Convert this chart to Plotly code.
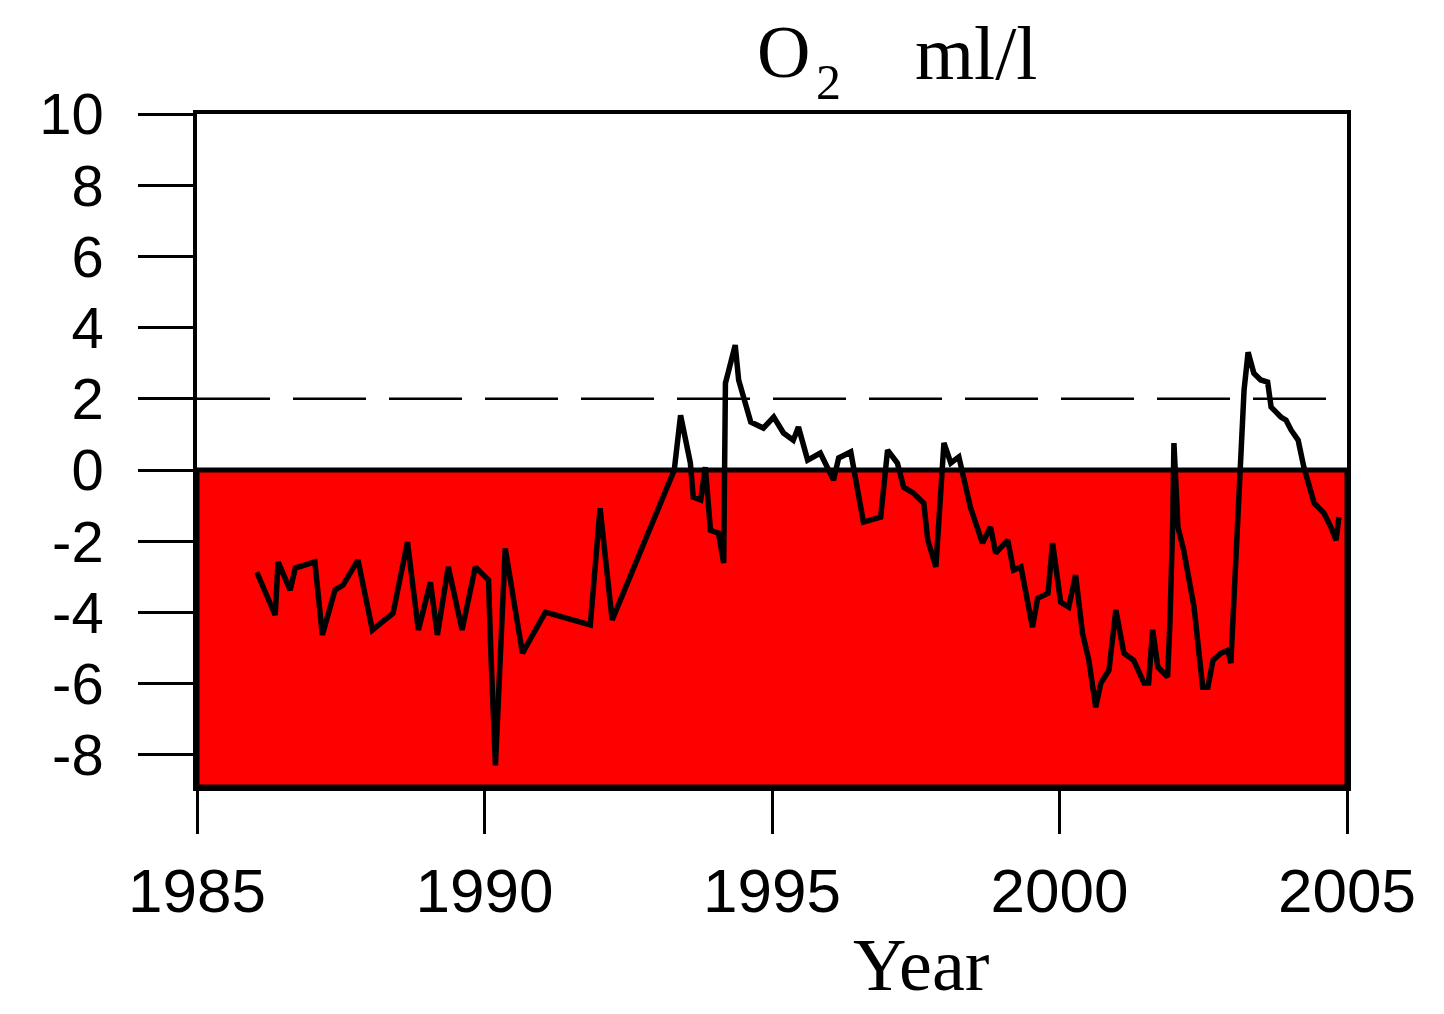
import plotly.graph_objects as go

# ---- data ----
years = [1986.04, 1986.36, 1986.41, 1986.62, 1986.71, 1987.05, 1987.18, 1987.40, 1987.54, 1987.80,
         1988.05, 1988.41, 1988.66, 1988.85, 1989.06, 1989.18, 1989.37, 1989.61, 1989.84, 1990.07,
         1990.11, 1990.19, 1990.36, 1990.66, 1991.06, 1991.84, 1992.01, 1992.22, 1993.30, 1993.41,
         1993.58, 1993.63, 1993.76, 1993.84, 1993.93, 1994.07, 1994.16, 1994.19, 1994.24, 1994.36,
         1994.42, 1994.57, 1994.63, 1994.85, 1995.03, 1995.20, 1995.37, 1995.46, 1995.62, 1995.84,
         1996.07, 1996.16, 1996.37, 1996.59, 1996.89, 1997.01, 1997.18, 1997.29, 1997.46, 1997.64,
         1997.71, 1997.85, 1997.99, 1998.11, 1998.25, 1998.45, 1998.66, 1998.80, 1998.89, 1999.10,
         1999.20, 1999.33, 1999.53, 1999.62, 1999.80, 1999.88, 2000.02, 2000.16, 2000.28, 2000.40,
         2000.51, 2000.63, 2000.72, 2000.86, 2000.98, 2001.12, 2001.29, 2001.47, 2001.55, 2001.62,
         2001.71, 2001.88, 2001.92, 2001.97, 2001.99, 2002.06, 2002.16, 2002.34, 2002.49, 2002.58,
         2002.67, 2002.81, 2002.93, 2002.98, 2003.03, 2003.10, 2003.19, 2003.21, 2003.28, 2003.38,
         2003.50, 2003.62, 2003.68, 2003.85, 2003.94, 2004.03, 2004.15, 2004.25, 2004.43, 2004.60,
         2004.72, 2004.81, 2004.86]
o2_anomaly = [-2.87, -4.07, -2.58, -3.37, -2.75, -2.58, -4.63, -3.37, -3.23, -2.53,
              -4.49, -4.02, -2.02, -4.49, -3.15, -4.63, -2.72, -4.49, -2.72, -3.09,
              -5.10, -8.29, -2.20, -5.14, -3.99, -4.35, -1.07, -4.21, 0.00, 1.54,
              0.20, -0.76, -0.84, 0.08, -1.69, -1.77, -2.61, 2.44, 2.75, 3.51,
              2.53, 1.60, 1.35, 1.18, 1.49, 1.04, 0.84, 1.21, 0.28, 0.48,
              -0.28, 0.34, 0.51, -1.46, -1.32, 0.56, 0.20, -0.48, -0.65, -0.93,
              -1.97, -2.72, 0.76, 0.20, 0.37, -1.04, -2.05, -1.60, -2.33, -1.97,
              -2.81, -2.72, -4.41, -3.60, -3.46, -2.05, -3.71, -3.85, -2.95, -4.58,
              -5.34, -6.66, -5.98, -5.62, -3.93, -5.14, -5.34, -5.98, -5.98, -4.49,
              -5.53, -5.81, -4.30, -1.40, 0.76, -1.60, -2.25, -3.85, -6.10, -6.10,
              -5.34, -5.14, -5.06, -5.42, -3.85, -1.88, 1.12, 2.25, 3.31, 2.72,
              2.53, 2.47, 1.77, 1.49, 1.40, 1.12, 0.84, 0.08, -0.93, -1.21,
              -1.60, -1.97, -1.32]

x_tickvals = [1985, 1990, 1995, 2000, 2005]
x_ticktext = ["1985", "1990", "1995", "2000", "2005"]
y_tickvals = [10, 8, 6, 4, 2, 0, -2, -4, -6, -8]
y_ticktext = ["10", "8", "6", "4", "2", "0", "-2", "-4", "-6", "-8"]

x_range = [1985, 2005]
y_range = [-8.9, 10]
threshold = 2       # dashed reference level
fill_top = 0        # red area from 0 down to axis bottom

title_main = "O"
title_sub = "2"
title_unit = "ml/l"
xlabel_text = "Year"

# ---- figure (page has an 8px body margin, so the figure is 8px smaller) ----
OFF = 8
W, H = 1444 - OFF, 1014 - OFF
ml, mt = 197 - OFF, 114 - OFF
pw, ph = 1150, 673
mr = W - ml - pw
mb = H - mt - ph

def px_to_paper_x(px):      # px in page coordinates
    return (px - OFF - ml) / pw

def px_to_paper_y(py):
    return (mt + ph - (py - OFF)) / ph

SERIF = "Liberation Serif, Times New Roman, serif"
SANS = "Liberation Sans, Arial, sans-serif"

fig = go.Figure()
fig.add_trace(go.Scatter(x=years, y=o2_anomaly, mode="lines",
                         line=dict(color="black", width=5.5), showlegend=False,
                         hoverinfo="skip"))

shapes = [
    # red area below zero
    dict(type="rect", xref="x", yref="y", layer="below",
         x0=x_range[0], x1=x_range[1], y0=y_range[0], y1=fill_top,
         fillcolor="#ff0000", line=dict(color="black", width=5)),
    # dashed line at threshold
    dict(type="line", xref="x", yref="y", layer="below",
         x0=x_range[0], x1=x_range[1], y0=threshold, y1=threshold,
         line=dict(color="black", width=2.5, dash="73px,23px")),
]

def ann(text, x, y, xanchor, yanchor, size, family=SERIF):
    return dict(text=text, xref="paper", yref="paper",
                x=px_to_paper_x(x), y=px_to_paper_y(y),
                xanchor=xanchor, yanchor=yanchor, showarrow=False,
                font=dict(family=family, size=size, color="black"))

fig.update_layout(
    width=W, height=H,
    margin=dict(l=ml, r=mr, t=mt, b=mb, pad=0),
    paper_bgcolor="white", plot_bgcolor="white",
    shapes=shapes,
    showlegend=False,
    annotations=[
        ann(title_main, 755, OFF + 1, "left", "top", 74),
        ann(title_sub, 814, 52, "left", "top", 50),
        ann(title_unit, 913, OFF + 1, "left", "top", 76),
        ann(xlabel_text, 921, 965, "center", "middle", 74),
    ],
)

fig.update_xaxes(range=x_range, tickvals=x_tickvals, ticktext=x_ticktext,
                 showgrid=False, zeroline=False,
                 showline=True, linecolor="black", linewidth=3.5, mirror=True,
                 ticks="outside", ticklen=43, tickwidth=2.5, tickcolor="black",
                 ticklabelstandoff=4,
                 tickfont=dict(family=SANS, size=62, color="black"))
fig.update_yaxes(range=y_range, tickvals=y_tickvals, ticktext=y_ticktext,
                 showgrid=False, zeroline=False,
                 showline=True, linecolor="black", linewidth=3.5, mirror=True,
                 ticks="outside", ticklen=55, tickwidth=3, tickcolor="black",
                 ticklabelstandoff=23,
                 tickfont=dict(family=SANS, size=58, color="black"))

fig.write_html("out.html")
